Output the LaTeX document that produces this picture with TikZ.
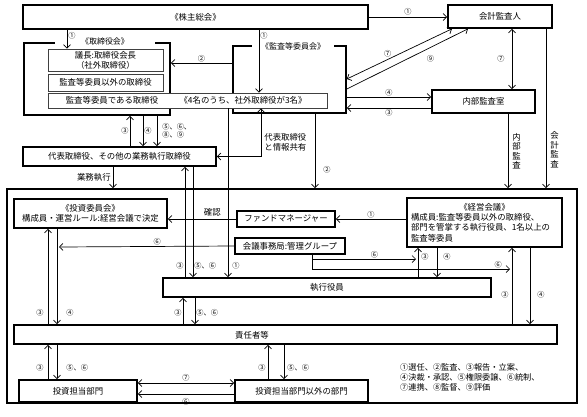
\documentclass[tikz,border=0pt]{standalone}
\usepackage{fontspec}
\setmainfont{Noto Sans CJK JP}
\usetikzlibrary{arrows.meta}

\begin{document}
\begin{tikzpicture}[x=1pt,y=-1pt,
    blk/.style={draw,line width=1.6pt,fill=white,inner sep=0pt,font=\fontsize{8.4}{10}\selectfont},
    thn/.style={draw=black!75,line width=0.8pt,fill=white,inner sep=0pt,font=\fontsize{8.4}{10}\selectfont},
    grp/.style={draw,line width=1.6pt,inner sep=0pt},
    ttl/.style={fill=white,inner sep=0pt,minimum height=7pt,font=\fontsize{8}{10}\selectfont},
    txt/.style={inner sep=0pt,font=\fontsize{8.4}{10}\selectfont},
    vtxt/.style={inner sep=0pt,align=center,font=\fontsize{8.4}{9.5}\selectfont},
    lbl/.style={inner sep=1pt,font=\fontsize{7.2}{8.5}\selectfont},
    arr/.style={line width=0.7pt,-{Straight Barb[length=3.5pt,width=7pt]}},
    darr/.style={line width=0.7pt,{Straight Barb[length=3.5pt,width=7pt]}-{Straight Barb[length=3.5pt,width=7pt]}}]
  \useasboundingbox (0,0) rectangle (587,416);

  % frames
  \node[grp,minimum width=570,minimum height=214] (big) at (292,296) {};
  \node[grp,minimum width=146,minimum height=72] (torikai) at (97,79) {};
  \node[ttl,minimum width=100] (torittl) at (105,41) {《取締役会》};
  \node[grp,minimum width=113,minimum height=67] (kansakai) at (289.5,79.5) {};
  \node[ttl,minimum width=82] (kansattl) at (293,46) {《監査等委員会》};

  % top part
  \node[blk,minimum width=345,minimum height=24] (kabu) at (195.5,17) {《株主総会》};
  \node[blk,minimum width=104,minimum height=23] (kaikei) at (500,16.5) {会計監査人};
  \node[blk,minimum width=103,minimum height=23] (naibu) at (483.5,101.5) {内部監査室};
  \node[thn,minimum width=115,minimum height=22,align=center] (gicho) at (105.5,60) {議長:取締役会長\\（社外取締役）};
  \node[thn,minimum width=115,minimum height=17] (igai) at (105.5,82.5) {監査等委員以外の取締役};
  \node[thn,minimum width=279,minimum height=15] (kansa) at (187.5,100.5) {};
  \node[txt] (kansaa) at (112,100.5) {監査等委員である取締役};
  \node[txt] (kansab) at (243,100.5) {《4名のうち、社外取締役が3名》};
  \node[blk,minimum width=193,minimum height=19] (dai) at (119.5,156.5) {代表取締役、その他の業務執行取締役};

  % inside
  \node[blk,minimum width=153,minimum height=29,align=center] (toushi) at (90.5,213.5) {《投資委員会》\\構成員・運営ルール:経営会議で決定};
  \node[blk,minimum width=98,minimum height=16] (fund) at (286,219) {ファンドマネージャー};
  \node[blk,minimum width=110,minimum height=16] (jimu) at (290,246) {会議事務局:管理グループ};
  \node[blk,minimum width=155,minimum height=49,text width=147pt,align=left,
        font=\fontsize{8.4}{10.3}\selectfont] (keiei) at (484.5,222.5)
    {\makebox[147pt][c]{《経営会議》}\\構成員:監査等委員以外の取締役、\\部門を管掌する執行役員、1名以上の\\監査等委員};
  \node[blk,minimum width=328,minimum height=19] (shikko) at (327,287.5) {執行役員};
  \node[blk,minimum width=543,minimum height=19] (sekinin) at (285.5,334.5) {};
  \node[txt] (sekinint) at (252,335) {責任者等};
  \node[blk,minimum width=118,minimum height=22] (bumon) at (78,391) {投資担当部門};
  \node[blk,minimum width=133,minimum height=22] (tabumon) at (301.5,391) {投資担当部門以外の部門};
  \node[txt,anchor=west,align=left,font=\fontsize{8.2}{10}\selectfont] (hanrei) at (400,377)
    {①選任、②監査、③報告・立案、\\④決裁・承認、⑤権限委譲、⑥統制、\\⑦連携、⑧監督、⑨評価};

  \coordinate (e6a) at (416,259);
  \coordinate (e6b) at (510,269);
  \coordinate (e6c) at (59,247);

  % shareholders, auditors
  \draw[arr] (67,0 |- kabu.south) -- (67,0 |- gicho.north) node[lbl,right,pos=.3] (lb1) {①};
  \draw[arr] (kabu.east) -- (kabu.east -| kaikei.west) node[lbl,midway,above=1pt] (lb2) {①};
  \draw[arr] (259,0 |- kabu.south) -- (259,0 |- kansa.north) node[lbl,right,pos=.1] (lb3) {①};
  \draw[arr] (kansakai.west |- 0,63) -- (torikai.east |- 0,63) node[lbl,midway,above] (lb4) {②};
  \draw[darr] (452,0 |- kaikei.south) -- (kansakai.east |- 0,79) node[lbl,pos=.61,above=1pt] (lb5) {⑦};
  \draw[arr] (kansakai.east |- 0,89) -- (468,0 |- kaikei.south) node[lbl,pos=.69,below=7pt] (lb6) {⑨};
  \draw[darr] (512,0 |- kaikei.south) -- (512,0 |- naibu.north) node[lbl,midway,left=6pt] (lb7) {⑦};
  \draw[arr] (kansakai.east |- 0,97) -- (naibu.west |- 0,97) node[lbl,midway,above] (lb8) {④};
  \draw[arr] (naibu.west |- 0,108) -- (kansakai.east |- 0,108) node[lbl,midway,below] (lb9) {③};
  \draw[arr] (508,0 |- naibu.south) -- (508,0 |- big.north) node[vtxt,midway,right=4pt] (naibut) {内\\部\\監\\査};
  \draw[arr] (546,0 |- kaikei.south) -- (546,0 |- big.north) node[vtxt,pos=.76,right=4pt] (kaikeit) {会\\計\\監\\査};

  % board and executives
  \draw[arr] (130,0 |- dai.north) -- (130,0 |- torikai.south) node[lbl,midway,left] (lb10) {③};
  \draw[arr] (143,0 |- torikai.south) -- (143,0 |- dai.north) node[lbl,midway,right] (lb11) {④};
  \draw[arr] (157,0 |- torikai.south) -- (157,0 |- dai.north) node[lbl,midway,right=4pt,align=left] (lb12) {⑤、⑥、\\⑧、⑨};
  \draw[darr] (261,0 |- kansa.south) |- (dai.east) node[txt,pos=.35,right=3pt,align=left] (kyoyu) {代表取締役\\と情報共有};
  \draw[arr] (228,0 |- kansa.south) -- (228,0 |- shikko.north) node[lbl,pos=.935,right=3pt] (lb13) {①};
  \draw[arr] (315,0 |- kansakai.south) -- (315,0 |- big.north) node[lbl,pos=.75,right=7pt] (lb14) {②};
  \draw[arr] (113,0 |- dai.south) -- (113,0 |- big.north) node[txt,midway,left=2pt] (gyomu) {業務執行};

  % inside the company
  \draw[arr] (fund.west) -- (fund.west -| toushi.east) node[txt,pos=.35,above=2pt] (kakunin) {確認};
  \draw[arr] (keiei.west |- fund.east) -- (fund.east) node[lbl,midway,above] (lb15) {①};
  \draw[arr] (185,0 |- shikko.north) -- (185,0 |- dai.south) node[lbl,pos=.1,left] (lb16) {③};
  \draw[arr] (193,0 |- dai.south) -- (193,0 |- shikko.north) node[lbl,pos=.9,right] (lb17) {⑤、⑥};
  \draw[arr] (jimu.west) -- (e6c) node[lbl,pos=.44,above] (lb18) {⑥};
  \draw[arr] (48,0 |- sekinin.north) -- (48,0 |- toushi.south) node[lbl,pos=.12,left=3pt] (lb19) {③};
  \draw[arr] (57,0 |- toushi.south) -- (57,0 |- sekinin.north) node[lbl,pos=.88,right=8pt] (lb20) {④};
  \draw[arr] (312,0 |- jimu.south) |- (e6a) node[lbl,pos=.8,above] (lb21) {⑥};
  \draw[arr] (312,0 |- jimu.south) |- (e6b) node[lbl,pos=.97,above] (lb22) {⑥};
  \draw[arr] (418,0 |- shikko.north) -- (418,0 |- keiei.south) node[lbl,pos=.7,right=2pt] (lb23) {③};
  \draw[arr] (437,0 |- keiei.south) -- (437,0 |- shikko.north) node[lbl,pos=.3,right=5pt] (lb24) {④};
  \draw[arr] (512,0 |- sekinin.north) -- (512,0 |- keiei.south) node[lbl,pos=.385,left=2pt] (lb25) {③};
  \draw[arr] (530,0 |- keiei.south) -- (530,0 |- sekinin.north) node[lbl,pos=.615,right=6pt] (lb26) {④};
  \draw[arr] (183,0 |- sekinin.north) -- (183,0 |- shikko.south) node[lbl,pos=.43,left] (lb27) {③};
  \draw[arr] (195,0 |- shikko.south) -- (195,0 |- sekinin.north) node[lbl,pos=.57,right] (lb28) {⑤、⑥};

  % departments
  \draw[arr] (48,0 |- bumon.north) -- (48,0 |- sekinin.south) node[lbl,pos=.33,left=3pt] (lb29) {③};
  \draw[arr] (57,0 |- sekinin.south) -- (57,0 |- bumon.north) node[lbl,pos=.67,right=8pt] (lb30) {⑤、⑥};
  \draw[arr] (268,0 |- tabumon.north) -- (268,0 |- sekinin.south) node[lbl,pos=.33,left=1pt] (lb31) {③};
  \draw[arr] (284,0 |- sekinin.south) -- (284,0 |- tabumon.north) node[lbl,pos=.67,right=2pt] (lb32) {⑤、⑥};
  \draw[darr] (bumon.east |- 0,383) -- (tabumon.west |- 0,383) node[lbl,midway,above=1pt] (lb33) {⑦};
  \draw[arr] (tabumon.west |- 0,394) -- (bumon.east |- 0,394) node[lbl,midway,below=3pt] (lb34) {⑥};
\end{tikzpicture}
\end{document}
